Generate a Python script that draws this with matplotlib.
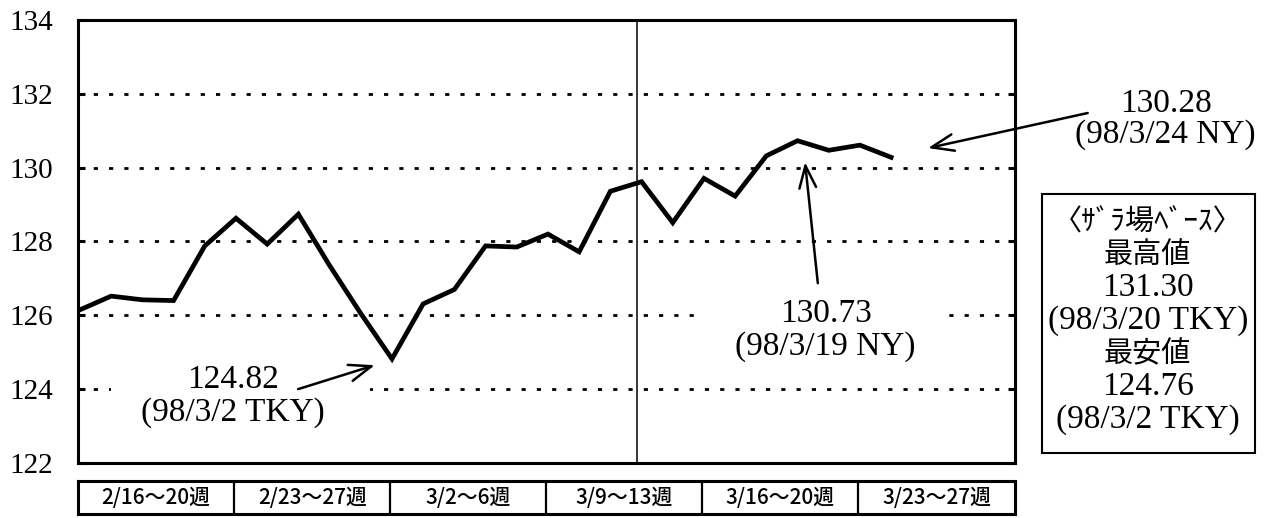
import matplotlib.pyplot as plt
from matplotlib.patches import Rectangle
import numpy as np

# yen/dollar daily closes, 98/2/16 - 98/3/24
dates = ['2/16', '2/17', '2/18', '2/19', '2/20',
         '2/23', '2/24', '2/25', '2/26', '2/27',
         '3/2', '3/3', '3/4', '3/5', '3/6',
         '3/9', '3/10', '3/11', '3/12', '3/13',
         '3/16', '3/17', '3/18', '3/19', '3/20',
         '3/23', '3/24']
rates = [126.15, 126.52, 126.42, 126.40, 127.88,
         128.63, 127.93, 128.74, 127.35, 126.05,
         124.82, 126.31, 126.70, 127.88, 127.85,
         128.20, 127.72, 129.36, 129.62, 128.51,
         129.71, 129.23, 130.32, 130.73, 130.47,
         130.61, 130.28]
weeks = ['2/16～20週', '2/23～27週', '3/2～6週', '3/9～13週', '3/16～20週', '3/23～27週']
yticks = [122, 124, 126, 128, 130, 132, 134]
stat_lines = ['〈ｻﾞﾗ場ﾍﾞｰｽ〉', '最高値', '131.30', '(98/3/20 TKY)', '最安値', '124.76', '(98/3/2 TKY)']

SERIF = ['Liberation Serif', 'Noto Sans CJK JP']
JP = ['Noto Sans CJK JP', 'DejaVu Sans']

x = np.arange(len(dates))
i_low = dates.index('3/2')
i_high = dates.index('3/19')
i_last = len(dates) - 1
XLIM = (-0.064, 29.97)

fig = plt.figure(figsize=(12.64, 5.18), dpi=100)
ax = fig.add_axes([0.0617, 0.1062, 0.7413, 0.8552])

ax.plot(x, rates, color='black', lw=3.4, solid_joinstyle='miter', zorder=3)
ax.set_xlim(*XLIM)
ax.set_ylim(122, 134)
ax.set_yticks(yticks)
ax.set_yticklabels([str(v) for v in yticks], fontsize=21, family=SERIF)
ax.set_xticks([])
ax.tick_params(axis='y', direction='in', length=5, width=2.2, pad=18, right=True)
for s in ax.spines.values():
    s.set_linewidth(2.2)

ax.set_axisbelow(True)
ax.yaxis.grid(True, color='black', lw=2.0, ls=(0, (1.5, 4.0)))
ax.axvline(17.85, color='black', lw=1.1, zorder=2)

# white gaps in the dotted lines behind the labels
ax.add_patch(Rectangle((1.0, 123.8), 8.3, 0.4, fc='white', ec='none', zorder=1))
ax.add_patch(Rectangle((19.87, 125.8), 7.93, 0.4, fc='white', ec='none', zorder=1))

arrow = dict(arrowstyle='->,head_length=0.8,head_width=0.3', lw=1.8,
             color='black', mutation_scale=20, shrinkA=0, shrinkB=0)

# low
ax.text(4.9, 123.80, '124.82\n(98/3/2 TKY)', ha='center', va='center',
        fontsize=24, family=SERIF, linespacing=1.1, zorder=4)
ax.annotate('', xy=(i_low - 0.55, rates[i_low] - 0.17), xytext=(6.99, 124.0),
            arrowprops=arrow, zorder=4)

# high
ax.text(23.9, 125.6, '130.73\n(98/3/19 NY)', ha='center', va='center',
        fontsize=24, family=SERIF, linespacing=1.1, zorder=4)
ax.annotate('', xy=(i_high + 0.24, rates[i_high] - 0.58), xytext=(23.65, 126.87),
            arrowprops=arrow, zorder=4)

# last
ax.text(34.8, 131.32, '130.28\n(98/3/24 NY)', ha='center', va='center',
        fontsize=24, family=SERIF, linespacing=1.0, clip_on=False)
ax.annotate('', xy=(i_last + 1.18, rates[i_last] + 0.25), xytext=(32.3, 131.48),
            arrowprops=arrow, annotation_clip=False)

# week boxes
axw = fig.add_axes([0.0617, 0.0077, 0.7413, 0.0637])
axw.set_xlim(*XLIM)
axw.set_ylim(0, 1)
axw.set_xticks([])
axw.set_yticks([])
for s in axw.spines.values():
    s.set_linewidth(2.2)
edges = [XLIM[0]] + [5 * k - 0.05 for k in range(1, len(weeks))] + [XLIM[1]]
axw.vlines(edges[1:-1], 0, 1, color='black', lw=1.6)
for k, lab in enumerate(weeks):
    axw.text((edges[k] + edges[k + 1]) / 2, 0.5, lab, ha='center', va='center',
             fontsize=15, family=JP, fontweight='medium')

# range box
fig.add_artist(Rectangle((0.8244, 0.1255), 0.1685, 0.5, transform=fig.transFigure,
                         fill=False, ec='black', lw=1.5))
for k, line in enumerate(stat_lines):
    jp = any(ord(c) > 0x3000 for c in line)
    fig.text(0.908, 1 - (222 + 33 * k) / 518, line, ha='center', va='center',
             fontsize=21 if jp else 24, family=JP if jp else SERIF)

fig.savefig('out.png', dpi=100)
